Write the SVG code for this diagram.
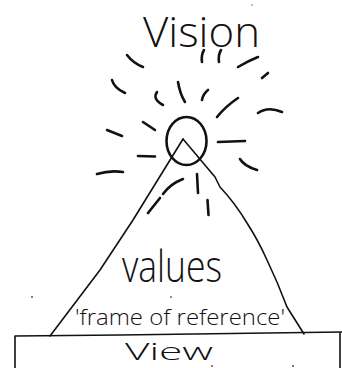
<svg xmlns="http://www.w3.org/2000/svg" width="342" height="368" viewBox="0 0 342 368">
  <style>
    .ink { fill: none; stroke: #111; stroke-linecap: round; stroke-linejoin: round; }
    .ray { stroke-width: 2.6; }
    .thin { stroke-width: 1.6; }
    .hand { font-family: "Open Sans", "Liberation Sans", "DejaVu Sans", sans-serif; font-weight: 300; fill: #111; }
    .dot { fill: #555; }
  </style>
  <rect width="342" height="368" fill="#fff"/>

  <g id="vision-label">
    <text class="hand" x="143" y="47" font-size="42" textLength="117" lengthAdjust="spacingAndGlyphs">Vision</text>
  </g>

  <g id="sun">
    <ellipse class="ink" cx="186.5" cy="141" rx="20" ry="24" stroke-width="2.6"/>
  </g>

  <g id="rays" class="ink ray">
    <path d="M127,55 Q133,63 143,67"/>
    <path d="M204,50 Q201,55 202,62"/>
    <path d="M221,50 Q218,55 219,62"/>
    <path d="M238,67 Q248,61 258,57"/>
    <path d="M262,78 L268,73"/>
    <path d="M112,80 Q114,88 125,93"/>
    <path d="M157,92 Q152,99 163,105"/>
    <path d="M178,82 Q180,94 185,102"/>
    <path d="M208,90 Q203,94 202,100"/>
    <path d="M217,117 Q226,106 238,98"/>
    <path d="M258,113 Q268,106 282,112"/>
    <path d="M107,130 L122,136"/>
    <path d="M143,122 L155,130"/>
    <path d="M218,142 L245,141"/>
    <path d="M138,156 L155,156.5"/>
    <path d="M240,159 Q244,166 257,170"/>
    <path d="M97,174 Q110,170 123,172"/>
    <path d="M197,174 L198,193"/>
    <path d="M207.5,200 L208.5,215"/>
    <path d="M148,213 L160,198"/>
    <path d="M163,194 Q170,184 183,179"/>
  </g>

  <g id="values-triangle">
    <path class="ink thin" d="M183,139 L133,220 L100,270 L50,336"/>
    <path class="ink thin" d="M183,139 L215,177 L220,187 Q235,203 247,223 Q258,240 267,260 Q278,283 287,307 L304,334"/>
    <text class="hand" x="122" y="282" font-size="44" textLength="100" lengthAdjust="spacingAndGlyphs">values</text>
    <text class="hand" x="75" y="325" font-size="22" textLength="210" lengthAdjust="spacingAndGlyphs">'frame of reference'</text>
  </g>

  <g id="view">
    <path class="ink thin" d="M15,368 L15,336 L120,335 L342,332"/>
    <path class="ink thin" d="M340,333 L340,368"/>
    <text class="hand" x="125" y="360" font-size="24" textLength="88" lengthAdjust="spacingAndGlyphs">View</text>
  </g>

  <g id="specks">
    <circle class="dot" cx="32" cy="297" r="1"/>
    <circle class="dot" cx="171" cy="297" r="0.9"/>
    <circle class="dot" cx="212" cy="366" r="1"/>
    <circle class="dot" cx="293" cy="366" r="1"/>
    <circle class="dot" cx="252" cy="5" r="0.7"/>
  </g>
</svg>
